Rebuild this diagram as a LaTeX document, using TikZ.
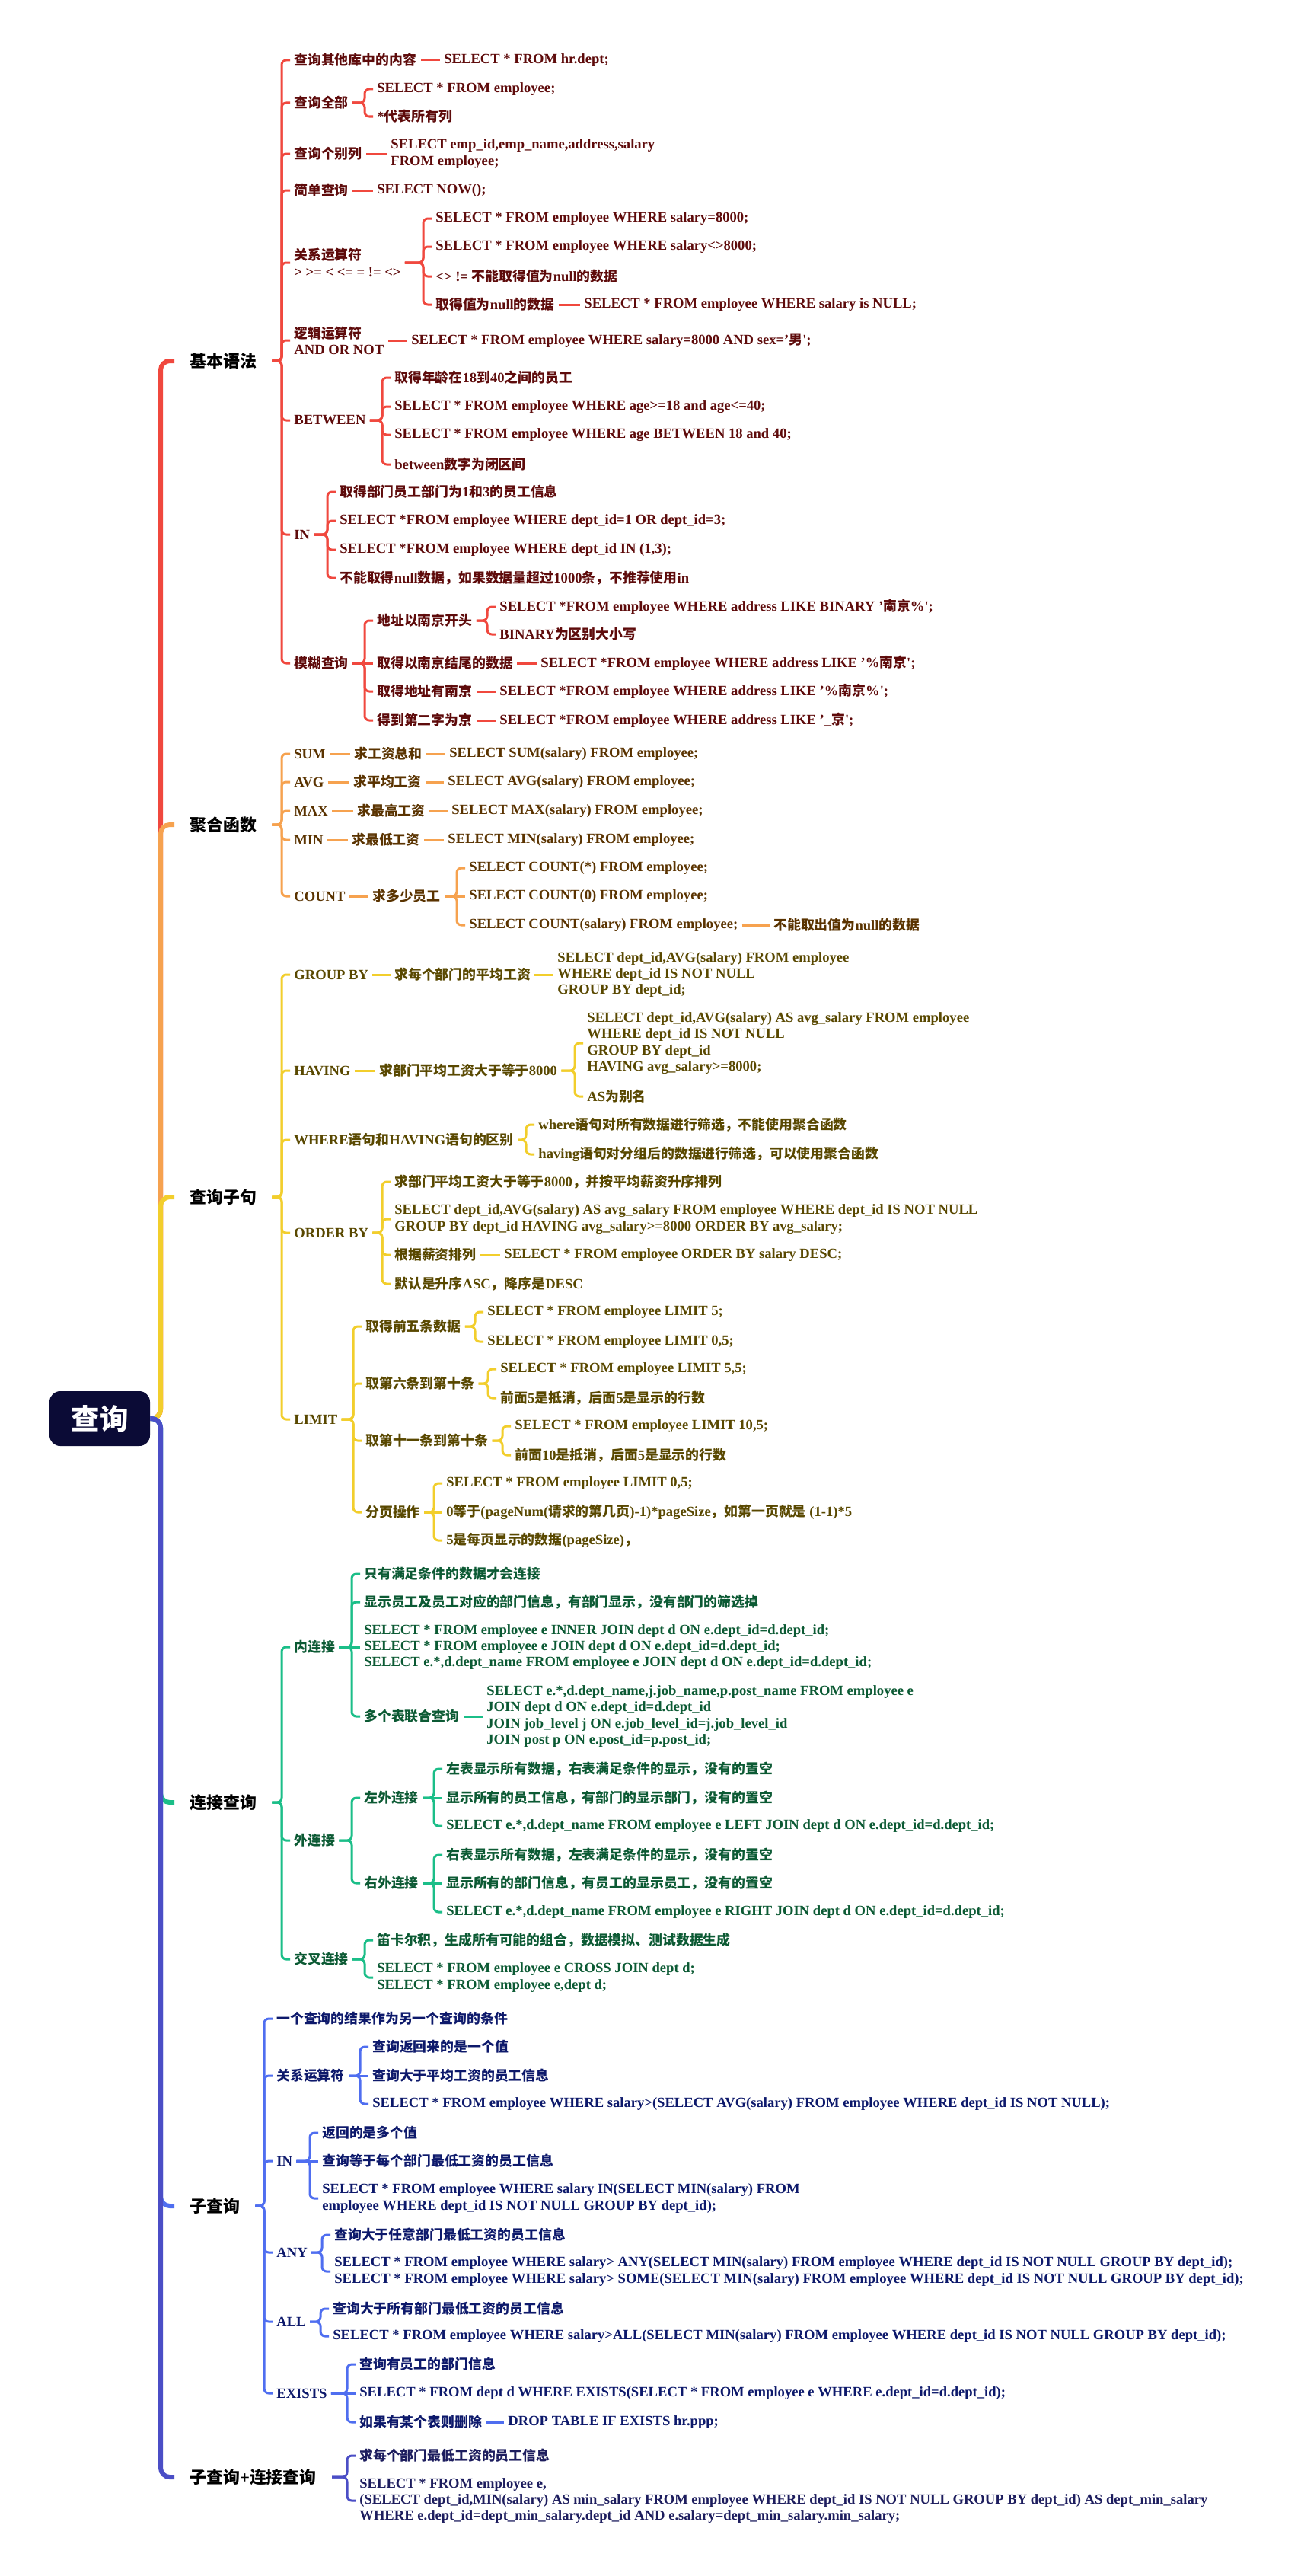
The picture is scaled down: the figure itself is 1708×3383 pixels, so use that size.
\documentclass[tikz,border=0pt]{standalone}
\usepackage{fontspec}
\setmainfont{Liberation Serif}
\newfontfamily\latinf{Liberation Serif}
\newfontfamily\cjkf{Noto Sans CJK SC}[Scale=0.96]

% switch to the CJK face for Chinese runs
\XeTeXinterchartokenstate=1
\newXeTeXintercharclass\zhclass
\newcount\zhc
\def\zhrange#1#2{\zhc=#1 \loop\XeTeXcharclass\zhc=\zhclass\ifnum\zhc<#2 \advance\zhc by 1 \repeat}
\zhrange{"4E00}{"9FFF}
\zhrange{"3000}{"303F}
\zhrange{"FF00}{"FFEF}
\XeTeXinterchartoks 0 \zhclass = {\cjkf}
\XeTeXinterchartoks 4095 \zhclass = {\cjkf}
\XeTeXinterchartoks \zhclass 0 = {\latinf}
\XeTeXinterchartoks \zhclass 4095 = {\latinf}

\definecolor{rootbg}{HTML}{0B0B36}
\definecolor{jbline}{HTML}{F0483E}
\definecolor{jbtxt}{HTML}{5E0B0B}
\definecolor{jhline}{HTML}{F6A24F}
\definecolor{jhtxt}{HTML}{5A3300}
\definecolor{zjline}{HTML}{F2CE2C}
\definecolor{zjtxt}{HTML}{594800}
\definecolor{ljline}{HTML}{1BBE88}
\definecolor{ljtxt}{HTML}{0C5A34}
\definecolor{zcline}{HTML}{4F6EF0}
\definecolor{zctxt}{HTML}{0D196B}
\definecolor{zlline}{HTML}{4B4EC6}
\definecolor{zltxt}{HTML}{1D1D5E}

\tikzset{
  rootbox/.style={fill=rootbg, rounded corners=7pt, text=white, minimum width=66pt,
    minimum height=36pt, font=\fontsize{19.5}{22}\selectfont\bfseries},
  mainlbl/.style={anchor=west, inner xsep=10pt, font=\fontsize{11.4}{13}\selectfont\bfseries, text=black},
  leaf/.style={anchor=west, xshift=-2.5pt, inner xsep=2.5pt, inner ysep=1pt, align=left,
    font=\fontsize{9.3}{10.6}\selectfont\bfseries},
  jb/.style={leaf, text=jbtxt},
  jh/.style={leaf, text=jhtxt},
  zj/.style={leaf, text=zjtxt},
  lj/.style={leaf, text=ljtxt},
  zc/.style={leaf, text=zctxt},
  zl/.style={leaf, text=zltxt},
  trunk/.style={line width=3pt, rounded corners=6pt},
  twig/.style={line width=1.5pt, rounded corners=3pt},
}
% fork: parent -> spine -> child ; dash: straight on one line
\newcommand{\mmfork}[3]{\draw[twig,draw=#1] (#2.east) -- ([xshift=-5.5pt]#3.west |- #2.east) |- (#3.west);}
\newcommand{\mmdash}[3]{\draw[twig,draw=#1] (#2.east) -- (#3.west);}
\newcommand{\mmtrunk}[2]{\draw[trunk,draw=#1] (root.east) -- ([xshift=-9pt]#2.west |- root.east) |- (#2.west);}

\begin{document}
\begin{tikzpicture}[x=0.5pt,y=-0.5pt]
  \fill[white] (0,0) rectangle (1708,3383);
  \useasboundingbox (0,0) rectangle (1708,3383);

  \node[rootbox] (root) at (131,1863) {查询};

  % ---- 基本语法
  \node[mainlbl] (jb) at (229,474) {基本语法};
  \node[jb] (jb1) at (386,79) {查询其他库中的内容};
  \node[jb] (jb1a) at (583,79) {SELECT * FROM hr.dept;};
  \node[jb] (jb2) at (386,135) {查询全部};
  \node[jb] (jb2a) at (495,117) {SELECT * FROM employee;};
  \node[jb] (jb2b) at (495,153) {*代表所有列};
  \node[jb] (jb3) at (386,202) {查询个别列};
  \node[jb] (jb3a) at (513,202) {SELECT emp\_id,emp\_name,address,salary\\FROM employee;};
  \node[jb] (jb4) at (386,250) {简单查询};
  \node[jb] (jb4a) at (495,250) {SELECT NOW();};
  \node[jb] (jb5) at (386,345) {关系运算符\\> >= < <= = != <>};
  \node[jb] (jb5a) at (572,287) {SELECT * FROM employee WHERE salary=8000;};
  \node[jb] (jb5b) at (572,324) {SELECT * FROM employee WHERE salary<>8000;};
  \node[jb] (jb5c) at (572,363) {<> != 不能取得值为null的数据};
  \node[jb] (jb5d) at (572,400) {取得值为null的数据};
  \node[jb] (jb5e) at (767,400) {SELECT * FROM employee WHERE salary is NULL;};
  \node[jb] (jb6) at (386,447) {逻辑运算符\\AND OR NOT};
  \node[jb] (jb6a) at (540,447) {SELECT * FROM employee WHERE salary=8000 AND sex='男';};
  \node[jb] (jb7) at (386,552) {BETWEEN};
  \node[jb] (jb7a) at (518,496) {取得年龄在18到40之间的员工};
  \node[jb] (jb7b) at (518,534) {SELECT * FROM employee WHERE age>=18 and age<=40;};
  \node[jb] (jb7c) at (518,571) {SELECT * FROM employee WHERE age BETWEEN 18 and 40;};
  \node[jb] (jb7d) at (518,610) {between数字为闭区间};
  \node[jb] (jb8) at (386,702) {IN};
  \node[jb] (jb8a) at (446,646) {取得部门员工部门为1和3的员工信息};
  \node[jb] (jb8b) at (446,684) {SELECT *FROM employee WHERE dept\_id=1 OR dept\_id=3;};
  \node[jb] (jb8c) at (446,722) {SELECT *FROM employee WHERE dept\_id IN (1,3);};
  \node[jb] (jb8d) at (446,759) {不能取得null数据，如果数据量超过1000条，不推荐使用in};
  \node[jb] (jb9) at (386,871) {模糊查询};
  \node[jb] (jb9a) at (495,815) {地址以南京开头};
  \node[jb] (jb9a1) at (656,797) {SELECT *FROM employee WHERE address LIKE BINARY '南京\%';};
  \node[jb] (jb9a2) at (656,833) {BINARY为区别大小写};
  \node[jb] (jb9b) at (495,871) {取得以南京结尾的数据};
  \node[jb] (jb9b1) at (710,871) {SELECT *FROM employee WHERE address LIKE '\%南京';};
  \node[jb] (jb9c) at (495,908) {取得地址有南京};
  \node[jb] (jb9c1) at (656,908) {SELECT *FROM employee WHERE address LIKE '\%南京\%';};
  \node[jb] (jb9d) at (495,946) {得到第二字为京};
  \node[jb] (jb9d1) at (656,946) {SELECT *FROM employee WHERE address LIKE '\_京';};

  \foreach \c in {jb1,jb2,jb3,jb4,jb5,jb6,jb7,jb8,jb9} {\mmfork{jbline}{jb}{\c}}
  \mmdash{jbline}{jb1}{jb1a}
  \mmfork{jbline}{jb2}{jb2a}
  \mmfork{jbline}{jb2}{jb2b}
  \mmdash{jbline}{jb3}{jb3a}
  \mmdash{jbline}{jb4}{jb4a}
  \foreach \c in {jb5a,jb5b,jb5c,jb5d} {\mmfork{jbline}{jb5}{\c}}
  \mmdash{jbline}{jb5d}{jb5e}
  \mmdash{jbline}{jb6}{jb6a}
  \foreach \c in {jb7a,jb7b,jb7c,jb7d} {\mmfork{jbline}{jb7}{\c}}
  \foreach \c in {jb8a,jb8b,jb8c,jb8d} {\mmfork{jbline}{jb8}{\c}}
  \foreach \c in {jb9a,jb9c,jb9d} {\mmfork{jbline}{jb9}{\c}}
  \mmdash{jbline}{jb9}{jb9b}
  \mmfork{jbline}{jb9a}{jb9a1}
  \mmfork{jbline}{jb9a}{jb9a2}
  \mmdash{jbline}{jb9b}{jb9b1}
  \mmdash{jbline}{jb9c}{jb9c1}
  \mmdash{jbline}{jb9d}{jb9d1}

  % ---- 聚合函数
  \node[mainlbl] (jh) at (229,1083) {聚合函数};
  \node[jh] (jh1) at (386,990) {SUM};
  \node[jh] (jh1a) at (465,990) {求工资总和};
  \node[jh] (jh1b) at (590,990) {SELECT SUM(salary) FROM employee;};
  \node[jh] (jh2) at (386,1027) {AVG};
  \node[jh] (jh2a) at (464,1027) {求平均工资};
  \node[jh] (jh2b) at (588,1027) {SELECT AVG(salary) FROM employee;};
  \node[jh] (jh3) at (386,1065) {MAX};
  \node[jh] (jh3a) at (469,1065) {求最高工资};
  \node[jh] (jh3b) at (593,1065) {SELECT MAX(salary) FROM employee;};
  \node[jh] (jh4) at (386,1103) {MIN};
  \node[jh] (jh4a) at (462,1103) {求最低工资};
  \node[jh] (jh4b) at (588,1103) {SELECT MIN(salary) FROM employee;};
  \node[jh] (jh5) at (386,1177) {COUNT};
  \node[jh] (jh5a) at (489,1177) {求多少员工};
  \node[jh] (jh5b) at (616,1140) {SELECT COUNT(*) FROM employee;};
  \node[jh] (jh5c) at (616,1177) {SELECT COUNT(0) FROM employee;};
  \node[jh] (jh5d) at (616,1215) {SELECT COUNT(salary) FROM employee;};
  \node[jh] (jh5e) at (1016,1215) {不能取出值为null的数据};

  \foreach \c in {jh1,jh2,jh3,jh4,jh5} {\mmfork{jhline}{jh}{\c}}
  \foreach \n in {1,2,3,4} {\mmdash{jhline}{jh\n}{jh\n a}\mmdash{jhline}{jh\n a}{jh\n b}}
  \mmdash{jhline}{jh5}{jh5a}
  \mmfork{jhline}{jh5a}{jh5b}
  \mmdash{jhline}{jh5a}{jh5c}
  \mmfork{jhline}{jh5a}{jh5d}
  \mmdash{jhline}{jh5d}{jh5e}

  % ---- 查询子句
  \node[mainlbl] (zj) at (229,1572) {查询子句};
  \node[zj] (zj1) at (386,1280) {GROUP BY};
  \node[zj] (zj1a) at (518,1280) {求每个部门的平均工资};
  \node[zj] (zj1b) at (732,1280) {SELECT dept\_id,AVG(salary) FROM employee\\WHERE dept\_id IS NOT NULL\\GROUP BY dept\_id;};
  \node[zj] (zj2) at (386,1406) {HAVING};
  \node[zj] (zj2a) at (498,1406) {求部门平均工资大于等于8000};
  \node[zj] (zj2b) at (771,1370) {SELECT dept\_id,AVG(salary) AS avg\_salary FROM employee\\WHERE dept\_id IS NOT NULL\\GROUP BY dept\_id\\HAVING avg\_salary>=8000;};
  \node[zj] (zj2c) at (771,1440) {AS为别名};
  \node[zj] (zj3) at (386,1497) {WHERE语句和HAVING语句的区别};
  \node[zj] (zj3a) at (707,1477) {where语句对所有数据进行筛选，不能使用聚合函数};
  \node[zj] (zj3b) at (707,1516) {having语句对分组后的数据进行筛选，可以使用聚合函数};
  \node[zj] (zj4) at (386,1619) {ORDER BY};
  \node[zj] (zj4a) at (518,1552) {求部门平均工资大于等于8000，并按平均薪资升序排列};
  \node[zj] (zj4b) at (518,1601) {SELECT dept\_id,AVG(salary) AS avg\_salary FROM employee WHERE dept\_id IS NOT NULL\\GROUP BY dept\_id HAVING avg\_salary>=8000 ORDER BY avg\_salary;};
  \node[zj] (zj4c) at (518,1648) {根据薪资排列};
  \node[zj] (zj4c1) at (662,1648) {SELECT * FROM employee ORDER BY salary DESC;};
  \node[zj] (zj4d) at (518,1686) {默认是升序ASC，降序是DESC};
  \node[zj] (zj5) at (386,1864) {LIMIT};
  \node[zj] (zj5a) at (480,1742) {取得前五条数据};
  \node[zj] (zj5a1) at (640,1723) {SELECT * FROM employee LIMIT 5;};
  \node[zj] (zj5a2) at (640,1762) {SELECT * FROM employee LIMIT 0,5;};
  \node[zj] (zj5b) at (480,1817) {取第六条到第十条};
  \node[zj] (zj5b1) at (657,1798) {SELECT * FROM employee LIMIT 5,5;};
  \node[zj] (zj5b2) at (657,1836) {前面5是抵消，后面5是显示的行数};
  \node[zj] (zj5c) at (480,1892) {取第十一条到第十条};
  \node[zj] (zj5c1) at (676,1873) {SELECT * FROM employee LIMIT 10,5;};
  \node[zj] (zj5c2) at (676,1911) {前面10是抵消，后面5是显示的行数};
  \node[zj] (zj5d) at (480,1986) {分页操作};
  \node[zj] (zj5d1) at (586,1948) {SELECT * FROM employee LIMIT 0,5;};
  \node[zj] (zj5d2) at (586,1986) {0等于(pageNum(请求的第几页)-1)*pageSize，如第一页就是 (1-1)*5};
  \node[zj] (zj5d3) at (586,2023) {5是每页显示的数据(pageSize)，};

  \foreach \c in {zj1,zj2,zj3,zj4,zj5} {\mmfork{zjline}{zj}{\c}}
  \mmdash{zjline}{zj1}{zj1a}
  \mmdash{zjline}{zj1a}{zj1b}
  \mmdash{zjline}{zj2}{zj2a}
  \mmfork{zjline}{zj2a}{zj2b}
  \mmfork{zjline}{zj2a}{zj2c}
  \mmfork{zjline}{zj3}{zj3a}
  \mmfork{zjline}{zj3}{zj3b}
  \foreach \c in {zj4a,zj4b,zj4c,zj4d} {\mmfork{zjline}{zj4}{\c}}
  \mmdash{zjline}{zj4c}{zj4c1}
  \foreach \c in {zj5a,zj5b,zj5c,zj5d} {\mmfork{zjline}{zj5}{\c}}
  \foreach \c in {a,b,c} {\mmfork{zjline}{zj5\c}{zj5\c1}\mmfork{zjline}{zj5\c}{zj5\c2}}
  \mmfork{zjline}{zj5d}{zj5d1}
  \mmdash{zjline}{zj5d}{zj5d2}
  \mmfork{zjline}{zj5d}{zj5d3}

  % ---- 连接查询
  \node[mainlbl] (lj) at (229,2367) {连接查询};
  \node[lj] (lj1) at (386,2163) {内连接};
  \node[lj] (lj1a) at (478,2067) {只有满足条件的数据才会连接};
  \node[lj] (lj1b) at (478,2104) {显示员工及员工对应的部门信息，有部门显示，没有部门的筛选掉};
  \node[lj] (lj1c) at (478,2163) {SELECT * FROM employee e INNER JOIN dept d ON e.dept\_id=d.dept\_id;\\SELECT * FROM employee e JOIN dept d ON e.dept\_id=d.dept\_id;\\SELECT e.*,d.dept\_name FROM employee e JOIN dept d ON e.dept\_id=d.dept\_id;};
  \node[lj] (lj1d) at (478,2254) {多个表联合查询};
  \node[lj] (lj1d1) at (639,2254) {SELECT e.*,d.dept\_name,j.job\_name,p.post\_name FROM employee e\\JOIN dept d ON e.dept\_id=d.dept\_id\\JOIN job\_level j ON e.job\_level\_id=j.job\_level\_id\\JOIN post p ON e.post\_id=p.post\_id;};
  \node[lj] (lj2) at (386,2417) {外连接};
  \node[lj] (lj2a) at (478,2361) {左外连接};
  \node[lj] (lj2a1) at (586,2323) {左表显示所有数据，右表满足条件的显示，没有的置空};
  \node[lj] (lj2a2) at (586,2361) {显示所有的员工信息，有部门的显示部门，没有的置空};
  \node[lj] (lj2a3) at (586,2398) {SELECT e.*,d.dept\_name FROM employee e LEFT JOIN dept d ON e.dept\_id=d.dept\_id;};
  \node[lj] (lj2b) at (478,2473) {右外连接};
  \node[lj] (lj2b1) at (586,2436) {右表显示所有数据，左表满足条件的显示，没有的置空};
  \node[lj] (lj2b2) at (586,2473) {显示所有的部门信息，有员工的显示员工，没有的置空};
  \node[lj] (lj2b3) at (586,2511) {SELECT e.*,d.dept\_name FROM employee e RIGHT JOIN dept d ON e.dept\_id=d.dept\_id;};
  \node[lj] (lj3) at (386,2573) {交叉连接};
  \node[lj] (lj3a) at (495,2548) {笛卡尔积，生成所有可能的组合，数据模拟、测试数据生成};
  \node[lj] (lj3b) at (495,2597) {SELECT * FROM employee e CROSS JOIN dept d;\\SELECT * FROM employee e,dept d;};

  \foreach \c in {lj1,lj2,lj3} {\mmfork{ljline}{lj}{\c}}
  \foreach \c in {lj1a,lj1b,lj1d} {\mmfork{ljline}{lj1}{\c}}
  \mmdash{ljline}{lj1}{lj1c}
  \mmdash{ljline}{lj1d}{lj1d1}
  \mmfork{ljline}{lj2}{lj2a}
  \mmfork{ljline}{lj2}{lj2b}
  \foreach \s in {a,b} {\mmfork{ljline}{lj2\s}{lj2\s1}\mmdash{ljline}{lj2\s}{lj2\s2}\mmfork{ljline}{lj2\s}{lj2\s3}}
  \mmfork{ljline}{lj3}{lj3a}
  \mmfork{ljline}{lj3}{lj3b}

  % ---- 子查询
  \node[mainlbl] (zc) at (229,2897) {子查询};
  \node[zc] (zc1) at (363,2651) {一个查询的结果作为另一个查询的条件};
  \node[zc] (zc2) at (363,2726) {关系运算符};
  \node[zc] (zc2a) at (489,2688) {查询返回来的是一个值};
  \node[zc] (zc2b) at (489,2726) {查询大于平均工资的员工信息};
  \node[zc] (zc2c) at (489,2763) {SELECT * FROM employee WHERE salary>(SELECT AVG(salary) FROM employee WHERE dept\_id IS NOT NULL);};
  \node[zc] (zc3) at (363,2838) {IN};
  \node[zc] (zc3a) at (423,2801) {返回的是多个值};
  \node[zc] (zc3b) at (423,2838) {查询等于每个部门最低工资的员工信息};
  \node[zc] (zc3c) at (423,2887) {SELECT * FROM employee WHERE salary IN(SELECT MIN(salary) FROM\\employee WHERE dept\_id IS NOT NULL GROUP BY dept\_id);};
  \node[zc] (zc4) at (363,2958) {ANY};
  \node[zc] (zc4a) at (439,2935) {查询大于任意部门最低工资的员工信息};
  \node[zc] (zc4b) at (439,2983) {SELECT * FROM employee WHERE salary> ANY(SELECT MIN(salary) FROM employee WHERE dept\_id IS NOT NULL GROUP BY dept\_id);\\SELECT * FROM employee WHERE salary> SOME(SELECT MIN(salary) FROM employee WHERE dept\_id IS NOT NULL GROUP BY dept\_id);};
  \node[zc] (zc5) at (363,3049) {ALL};
  \node[zc] (zc5a) at (437,3032) {查询大于所有部门最低工资的员工信息};
  \node[zc] (zc5b) at (437,3068) {SELECT * FROM employee WHERE salary>ALL(SELECT MIN(salary) FROM employee WHERE dept\_id IS NOT NULL GROUP BY dept\_id);};
  \node[zc] (zc6) at (363,3143) {EXISTS};
  \node[zc] (zc6a) at (472,3105) {查询有员工的部门信息};
  \node[zc] (zc6b) at (472,3143) {SELECT * FROM dept d WHERE EXISTS(SELECT * FROM employee e WHERE e.dept\_id=d.dept\_id);};
  \node[zc] (zc6c) at (472,3181) {如果有某个表则删除};
  \node[zc] (zc6c1) at (667,3181) {DROP TABLE IF EXISTS hr.ppp;};

  \foreach \c in {zc1,zc2,zc3,zc4,zc5,zc6} {\mmfork{zcline}{zc}{\c}}
  \foreach \n in {2,3} {\mmfork{zcline}{zc\n}{zc\n a}\mmdash{zcline}{zc\n}{zc\n b}\mmfork{zcline}{zc\n}{zc\n c}}
  \foreach \n in {4,5} {\mmfork{zcline}{zc\n}{zc\n a}\mmfork{zcline}{zc\n}{zc\n b}}
  \mmfork{zcline}{zc6}{zc6a}
  \mmdash{zcline}{zc6}{zc6b}
  \mmfork{zcline}{zc6}{zc6c}
  \mmdash{zcline}{zc6c}{zc6c1}

  % ---- 子查询+连接查询
  \node[mainlbl] (zl) at (229,3253) {子查询+连接查询};
  \node[zl] (zl1) at (472,3225) {求每个部门最低工资的员工信息};
  \node[zl] (zl2) at (472,3284) {SELECT * FROM employee e,\\(SELECT dept\_id,MIN(salary) AS min\_salary FROM employee WHERE dept\_id IS NOT NULL GROUP BY dept\_id) AS dept\_min\_salary\\WHERE e.dept\_id=dept\_min\_salary.dept\_id AND e.salary=dept\_min\_salary.min\_salary;};
  \mmfork{zlline}{zl}{zl1}
  \mmfork{zlline}{zl}{zl2}

  % trunk, top to bottom
  \mmtrunk{jbline}{jb}
  \mmtrunk{jhline}{jh}
  \mmtrunk{zjline}{zj}
  \mmtrunk{ljline}{lj}
  \mmtrunk{zcline}{zc}
  \mmtrunk{zlline}{zl}
\end{tikzpicture}
\end{document}
